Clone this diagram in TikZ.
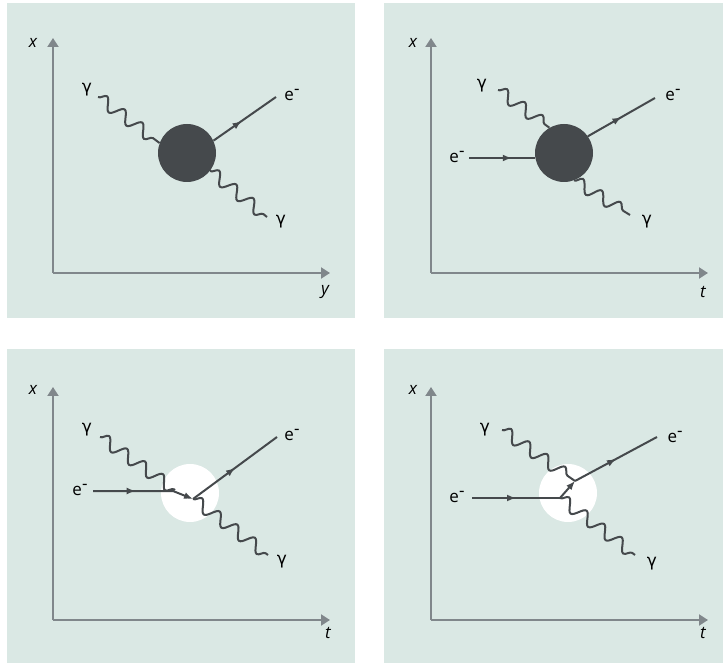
\documentclass[tikz,border=0pt]{standalone}
\usepackage{fontspec}
\setmainfont{Open Sans}
\newfontfamily\gammafont{DejaVu Sans}
\usepackage{tikz}
\usetikzlibrary{arrows.meta,decorations.pathmorphing,decorations.markings}
\definecolor{panelbg}{RGB}{218,232,228}
\definecolor{linegray}{RGB}{69,73,76}
\definecolor{axisgray}{RGB}{128,135,139}
\newcommand{\phot}{{\gammafont γ}}
\newcommand{\elec}{e\raisebox{0.6ex}{-}}

\begin{document}
\begin{tikzpicture}[x=1pt, y=-1pt,
            axis/.style={line width=2pt, axisgray, -{Triangle[length=9pt,width=11pt]}},
            photon/.style={line width=2pt, linegray, decorate,
                decoration={snake, amplitude=6pt, segment length=22pt}},
            fermion/.style={line width=2pt, linegray, postaction={decorate},
                decoration={markings, mark=at position #1 with {\arrow{Latex[length=9pt,width=7pt]}}}},
            fermion/.default=0.55,
            blob/.style={circle, fill=linegray, minimum size=58pt, inner sep=0pt},
            hole/.style={circle, fill=white, minimum size=58pt, inner sep=0pt},
            lbl/.style={font=\fontsize{17}{20}\selectfont, text=black, inner sep=0pt},
            axlbl/.style={font=\fontsize{17}{20}\selectfont\itshape, text=black, inner sep=0pt}
        ]
            \useasboundingbox (0,0) rectangle (724,663);

            % Panels
            \fill [panelbg] (7,3) rectangle (355,318);
            \fill [panelbg] (384,3) rectangle (723,318);
            \fill [panelbg] (7,349) rectangle (355,663);
            \fill [panelbg] (384,349) rectangle (723,663);

            % Axes
            \coordinate (o1) at (53,273);
            \coordinate (o2) at (431,273);
            \coordinate (o3) at (53,620);
            \coordinate (o4) at (431,620);
            \draw [axis] (o1) -- (53,38);
            \draw [axis] (o1) -- (330,273);
            \draw [axis] (o2) -- (431,38);
            \draw [axis] (o2) -- (708,273);
            \draw [axis] (o3) -- (53,387);
            \draw [axis] (o3) -- (330,620);
            \draw [axis] (o4) -- (431,387);
            \draw [axis] (o4) -- (708,620);
            \node [axlbl] (ax1) at (33,43) {x};
            \node [axlbl] (ay1) at (325,292) {y};
            \node [axlbl] (ax2) at (413,43) {x};
            \node [axlbl] (at2) at (703,292) {t};
            \node [axlbl] (ax3) at (33,390) {x};
            \node [axlbl] (at3) at (328,633) {t};
            \node [axlbl] (ax4) at (413,390) {x};
            \node [axlbl] (at4) at (703,633) {t};

            % Panel 1
            \node [blob] (b1) at (187,153) {};
            \coordinate (g1a) at (98,97);
            \coordinate (g1b) at (267,217);
            \coordinate (e1b) at (276,97);
            \draw [photon] (g1a) -- (b1.160);
            \draw [photon] (b1.-38) -- (g1b);
            \draw [fermion=0.45] (b1.25) -- (e1b);
            \node [lbl] (lg1a) at (87,90) {\phot};
            \node [lbl] (lg1b) at (281,222) {\phot};
            \node [lbl] (le1b) at (292,95) {\elec};

            % Panel 2
            \node [blob] (b2) at (564,153) {};
            \coordinate (e2a) at (469,158);
            \coordinate (g2a) at (498,90);
            \coordinate (e2b) at (655,98);
            \coordinate (g2b) at (630,215);
            \draw [fermion=0.65] (e2a) -- (e2a -| b2.west);
            \draw [photon] (g2a) -- (b2.120);
            \draw [fermion=0.5] (b2.35) -- (e2b);
            \draw [photon] (b2.-70) -- (g2b);
            \node [lbl] (le2a) at (457,157) {\elec};
            \node [lbl] (lg2a) at (482,86) {\phot};
            \node [lbl] (le2b) at (673,95) {\elec};
            \node [lbl] (lg2b) at (647,222) {\phot};

            % Panel 3
            \node [hole] (w3) at (190,493) {};
            \coordinate (v3) at (193,499);
            \coordinate (e3a) at (93,491);
            \coordinate (k3) at (173,491);
            \coordinate (g3a) at (100,437);
            \coordinate (p3) at (175,490);
            \coordinate (e3b) at (277,437);
            \coordinate (g3b) at (268,555);
            \draw [photon] (g3a) -- (p3);
            \draw [fermion=0.42, -{Latex[length=9pt,width=7pt]}] (e3a) -- (k3) -- (v3);
            \draw [fermion=0.5] (v3) -- (e3b);
            \draw [photon] (v3) -- (g3b);
            \node [lbl] (le3a) at (80,490) {\elec};
            \node [lbl] (lg3a) at (87,430) {\phot};
            \node [lbl] (le3b) at (292,435) {\elec};
            \node [lbl] (lg3b) at (282,562) {\phot};

            % Panel 4
            \node [hole] (w4) at (568,493) {};
            \coordinate (v4a) at (560,498);
            \coordinate (v4b) at (575,481);
            \coordinate (e4a) at (472,498);
            \coordinate (g4a) at (502,430);
            \coordinate (e4b) at (657,437);
            \coordinate (g4b) at (635,555);
            \draw [photon] (g4a) -- (v4b);
            \draw [fermion=0.5] (e4a) -- (v4a);
            \draw [line width=2pt, linegray, -{Latex[length=9pt,width=7pt]}] (v4a) -- (v4b);
            \draw [fermion=0.5] (v4b) -- (e4b);
            \draw [photon] (v4a) -- (g4b);
            \node [lbl] (le4a) at (457,497) {\elec};
            \node [lbl] (lg4a) at (485,430) {\phot};
            \node [lbl] (le4b) at (675,437) {\elec};
            \node [lbl] (lg4b) at (652,564) {\phot};
        \end{tikzpicture}
\end{document}
